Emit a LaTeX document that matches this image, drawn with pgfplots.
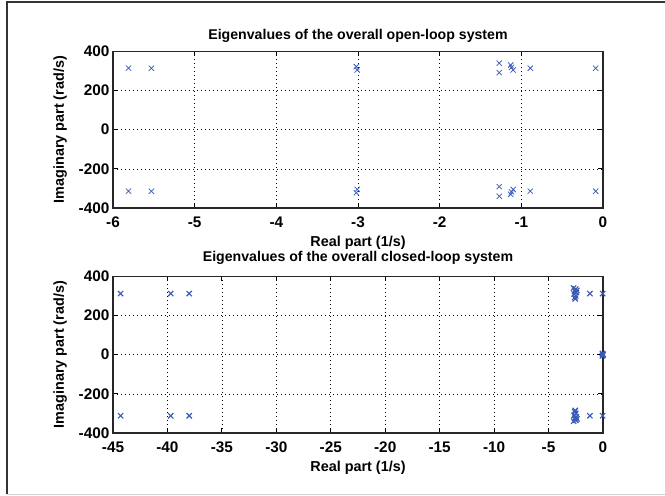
\documentclass[border=0pt]{standalone}
\usepackage{fontspec}
\setmainfont{Liberation Sans}
\usepackage{pgfplots}
\pgfplotsset{compat=1.18}
\definecolor{mlBlue}{HTML}{3A5AB8}
\definecolor{frameGrey}{HTML}{D4D4D4}

% shared look of both panels (MATLAB-like)
\pgfplotsset{eigpanel/.style={
  scale only axis, width=367.5pt, height=117.5pt,
  anchor=south west, xmax=0,
  ymin=-400, ymax=400, ytick={-400,-200,0,200,400},
  grid=major,
  major grid style={black, line width=0.45pt, dash pattern=on 0.7pt off 2.3pt},
  axis line style={black!85, line width=0.9pt},
  tick align=inside, major tick length=3.5pt,
  tick style={black, line width=0.6pt},
  /pgf/number format/assume math mode=true,
  tick label style={font=\fontsize{11.5}{13}\selectfont\bfseries},
  xticklabel style={anchor=center, yshift=-10.5pt},
  yticklabel style={anchor=east, inner sep=0pt, xshift=-2.5pt},
  xlabel={Real part (1/s)},
  ylabel={Imaginary part (rad/s)},
  label style={font=\fontsize{10.8}{12}\selectfont\bfseries},
  xlabel style={at={(axis description cs:0.5,-0.222)}, anchor=center},
  ylabel style={at={(axis description cs:-0.108,0.5)}, anchor=center},
  every axis title shift=0pt,
  title style={font=\fontsize{10.6}{12}\selectfont\bfseries, anchor=center},
}}

\begin{document}
\begin{tikzpicture}
\useasboundingbox (0,0) rectangle (498.75pt,372pt);
% figure frame
\draw[frameGrey, line width=1.2pt] (5.25pt,1.2pt) -- (498.75pt,1.2pt);
\draw[black!80, line width=1.5pt] (5.25pt,1.2pt) -- (5.25pt,370.8pt) -- (498.75pt,370.8pt);

% open-loop eigenvalues
\begin{axis}[eigpanel, at={(84.75pt,216pt)},
  xmin=-6, xtick={-6,-5,-4,-3,-2,-1,0},
  title={Eigenvalues of the overall open-loop system},
  title style={at={(axis description cs:0.5,1.10)}}]
\addplot[only marks, mark=x, mark size=2.8pt, color=mlBlue, mark options={line width=0.55pt}]
coordinates {
(-5.81,314) (-5.81,-314)
(-5.53,314) (-5.53,-314)
(-3.02,322) (-3.02,-322)
(-3.01,305) (-3.01,-305)
(-1.27,340) (-1.27,-340)
(-1.27,291) (-1.27,-291)
(-1.13,330) (-1.13,-330)
(-1.10,305) (-1.10,-305)
(-1.12,318) (-1.12,-318)
(-0.89,314) (-0.89,-314)
(-0.09,314) (-0.09,-314)
};
\end{axis}

% closed-loop eigenvalues
\begin{axis}[eigpanel, at={(84.75pt,47.25pt)},
  xmin=-45, xtick={-45,-40,...,0},
  title={Eigenvalues of the overall closed-loop system},
  title style={at={(axis description cs:0.5,1.12)}}]
\addplot[only marks, mark=x, mark size=2.8pt, color=mlBlue, mark options={line width=0.85pt}]
coordinates {
(-44.3,312) (-44.3,-312)
(-39.7,312) (-39.7,-312)
(-38.0,312) (-38.0,-312)
(-2.70,340) (-2.70,-340)
(-2.50,335) (-2.50,-335)
(-2.60,325) (-2.60,-325)
(-2.45,318) (-2.45,-318)
(-2.65,310) (-2.65,-310)
(-2.50,300) (-2.50,-300)
(-2.60,292) (-2.60,-292)
(-2.40,328) (-2.40,-328)
(-2.55,285) (-2.55,-285)
(-1.20,312) (-1.20,-312)
(-0.03,312) (-0.03,-312)
(0,0) (-0.05,6) (-0.05,-6) (-0.02,2) (-0.02,-2)
};
\end{axis}
\end{tikzpicture}
\end{document}
